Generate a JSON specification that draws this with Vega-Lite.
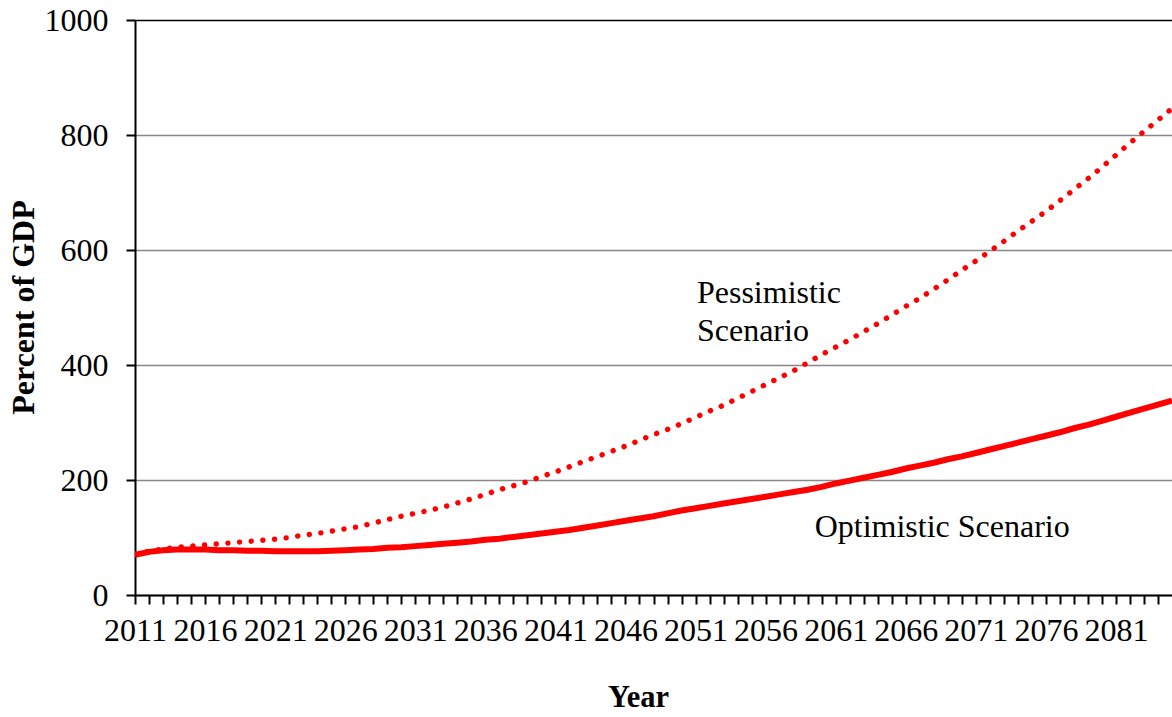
{
  "$schema": "https://vega.github.io/schema/vega-lite/v6.json",
  "autosize": {"type": "none"},
  "width": 1037,
  "height": 575,
  "padding": {"left": 135, "top": 20, "right": 0, "bottom": 122},
  "background": "white",
  "config": {
    "view": {"stroke": null},
    "font": "Times New Roman, Liberation Serif, serif",
    "axis": {"labelColor": "black", "titleColor": "black"}
  },
  "datasets": {
    "debt": [
      {"year": 2011, "optimistic": 70, "pessimistic": 71},
      {"year": 2012, "optimistic": 75, "pessimistic": 76},
      {"year": 2013, "optimistic": 78, "pessimistic": 80},
      {"year": 2014, "optimistic": 79, "pessimistic": 83},
      {"year": 2015, "optimistic": 79, "pessimistic": 85},
      {"year": 2016, "optimistic": 79, "pessimistic": 87},
      {"year": 2017, "optimistic": 78, "pessimistic": 89},
      {"year": 2018, "optimistic": 78, "pessimistic": 91},
      {"year": 2019, "optimistic": 77, "pessimistic": 93},
      {"year": 2020, "optimistic": 77, "pessimistic": 95},
      {"year": 2021, "optimistic": 76, "pessimistic": 97},
      {"year": 2022, "optimistic": 76, "pessimistic": 100},
      {"year": 2023, "optimistic": 76, "pessimistic": 104},
      {"year": 2024, "optimistic": 76, "pessimistic": 107},
      {"year": 2025, "optimistic": 77, "pessimistic": 111},
      {"year": 2026, "optimistic": 78, "pessimistic": 115},
      {"year": 2027, "optimistic": 79, "pessimistic": 119},
      {"year": 2028, "optimistic": 80, "pessimistic": 125},
      {"year": 2029, "optimistic": 82, "pessimistic": 131},
      {"year": 2030, "optimistic": 83, "pessimistic": 137},
      {"year": 2031, "optimistic": 85, "pessimistic": 142},
      {"year": 2032, "optimistic": 87, "pessimistic": 147},
      {"year": 2033, "optimistic": 89, "pessimistic": 153},
      {"year": 2034, "optimistic": 91, "pessimistic": 160},
      {"year": 2035, "optimistic": 93, "pessimistic": 167},
      {"year": 2036, "optimistic": 96, "pessimistic": 175},
      {"year": 2037, "optimistic": 98, "pessimistic": 183},
      {"year": 2038, "optimistic": 101, "pessimistic": 190},
      {"year": 2039, "optimistic": 104, "pessimistic": 197},
      {"year": 2040, "optimistic": 107, "pessimistic": 206},
      {"year": 2041, "optimistic": 110, "pessimistic": 214},
      {"year": 2042, "optimistic": 113, "pessimistic": 223},
      {"year": 2043, "optimistic": 117, "pessimistic": 232},
      {"year": 2044, "optimistic": 121, "pessimistic": 241},
      {"year": 2045, "optimistic": 125, "pessimistic": 250},
      {"year": 2046, "optimistic": 129, "pessimistic": 259},
      {"year": 2047, "optimistic": 133, "pessimistic": 269},
      {"year": 2048, "optimistic": 137, "pessimistic": 279},
      {"year": 2049, "optimistic": 142, "pessimistic": 288},
      {"year": 2050, "optimistic": 147, "pessimistic": 298},
      {"year": 2051, "optimistic": 151, "pessimistic": 309},
      {"year": 2052, "optimistic": 155, "pessimistic": 320},
      {"year": 2053, "optimistic": 159, "pessimistic": 330},
      {"year": 2054, "optimistic": 163, "pessimistic": 342},
      {"year": 2055, "optimistic": 167, "pessimistic": 354},
      {"year": 2056, "optimistic": 171, "pessimistic": 366},
      {"year": 2057, "optimistic": 175, "pessimistic": 378},
      {"year": 2058, "optimistic": 179, "pessimistic": 390},
      {"year": 2059, "optimistic": 183, "pessimistic": 404},
      {"year": 2060, "optimistic": 188, "pessimistic": 418},
      {"year": 2061, "optimistic": 194, "pessimistic": 431},
      {"year": 2062, "optimistic": 199, "pessimistic": 444},
      {"year": 2063, "optimistic": 204, "pessimistic": 458},
      {"year": 2064, "optimistic": 209, "pessimistic": 472},
      {"year": 2065, "optimistic": 214, "pessimistic": 487},
      {"year": 2066, "optimistic": 220, "pessimistic": 502},
      {"year": 2067, "optimistic": 225, "pessimistic": 516},
      {"year": 2068, "optimistic": 230, "pessimistic": 532},
      {"year": 2069, "optimistic": 236, "pessimistic": 548},
      {"year": 2070, "optimistic": 241, "pessimistic": 565},
      {"year": 2071, "optimistic": 247, "pessimistic": 581},
      {"year": 2072, "optimistic": 253, "pessimistic": 598},
      {"year": 2073, "optimistic": 259, "pessimistic": 615},
      {"year": 2074, "optimistic": 265, "pessimistic": 633},
      {"year": 2075, "optimistic": 271, "pessimistic": 650},
      {"year": 2076, "optimistic": 277, "pessimistic": 667},
      {"year": 2077, "optimistic": 283, "pessimistic": 686},
      {"year": 2078, "optimistic": 290, "pessimistic": 705},
      {"year": 2079, "optimistic": 296, "pessimistic": 724},
      {"year": 2080, "optimistic": 303, "pessimistic": 744},
      {"year": 2081, "optimistic": 310, "pessimistic": 765},
      {"year": 2082, "optimistic": 317, "pessimistic": 786},
      {"year": 2083, "optimistic": 324, "pessimistic": 806},
      {"year": 2084, "optimistic": 331, "pessimistic": 826},
      {"year": 2085, "optimistic": 338, "pessimistic": 846}
    ],
    "labels": [
      {"year": 2051.1, "value": 508, "text": "Pessimistic"},
      {"year": 2051.1, "value": 442, "text": "Scenario"},
      {"year": 2059.5, "value": 101, "text": "Optimistic Scenario"}
    ]
  },
  "encoding": {
    "x": {
      "field": "year", "type": "quantitative",
      "scale": {"domain": [2011, 2085], "nice": false, "zero": false},
      "axis": {
        "title": "Year",
        "titleFont": "Times New Roman, Liberation Serif, serif",
        "titleFontSize": 30.5, "titleFontWeight": "bold",
        "titleX": 503, "titleY": 102, "titleBaseline": "middle", "titleAlign": "center",
        "values": [2011,2012,2013,2014,2015,2016,2017,2018,2019,2020,2021,2022,2023,2024,2025,2026,2027,2028,2029,2030,2031,2032,2033,2034,2035,2036,2037,2038,2039,2040,2041,2042,2043,2044,2045,2046,2047,2048,2049,2050,2051,2052,2053,2054,2055,2056,2057,2058,2059,2060,2061,2062,2063,2064,2065,2066,2067,2068,2069,2070,2071,2072,2073,2074,2075,2076,2077,2078,2079,2080,2081,2082,2083,2084],
        "format": "d",
        "labelExpr": "(datum.value - 2011) % 5 == 0 ? toString(datum.value) : ''",
        "labelFont": "Times New Roman, Liberation Serif, serif",
        "labelFontSize": 32, "labelPadding": 11, "labelOverlap": false, "labelFlush": false,
        "labelBound": false,
        "tickSize": 9, "tickColor": "black", "tickWidth": 2,
        "domainColor": "black", "domainWidth": 2,
        "grid": false
      }
    },
    "y": {
      "field": "optimistic", "type": "quantitative",
      "scale": {"domain": [0, 1000], "nice": false},
      "axis": {
        "title": "Percent of GDP",
        "titleFont": "Times New Roman, Liberation Serif, serif",
        "titleFontSize": 32, "titleFontWeight": "bold",
        "titleX": -112, "titleY": 287, "titleAngle": -90,
        "titleAlign": "center", "titleBaseline": "middle",
        "values": [0, 200, 400, 600, 800, 1000],
        "format": "d",
        "labelFont": "Times New Roman, Liberation Serif, serif",
        "labelFontSize": 32, "labelPadding": 18, "labelOverlap": false,
        "tickSize": 9, "tickColor": "black", "tickWidth": 2,
        "domainColor": "black", "domainWidth": 2,
        "grid": true, "gridWidth": 1.5,
        "gridColor": {"condition": {"test": "datum.value == 1000", "value": "black"}, "value": "#888888"}
      }
    }
  },
  "layer": [
    {
      "data": {"name": "debt"},
      "mark": {"type": "line", "color": "#FF0000", "strokeWidth": 6, "clip": true}
    },
    {
      "data": {"name": "debt"},
      "mark": {"type": "line", "color": "#FF0000", "strokeWidth": 5.4, "strokeCap": "round", "strokeDash": [0.1, 11.6], "clip": true},
      "encoding": {
        "y": {"field": "pessimistic", "type": "quantitative"}
      }
    },
    {
      "data": {"name": "labels"},
      "mark": {"type": "text", "align": "left", "baseline": "alphabetic", "fontSize": 32, "font": "Times New Roman, Liberation Serif, serif", "color": "black"},
      "encoding": {
        "y": {"field": "value", "type": "quantitative"},
        "text": {"field": "text", "type": "nominal"}
      }
    }
  ]
}
